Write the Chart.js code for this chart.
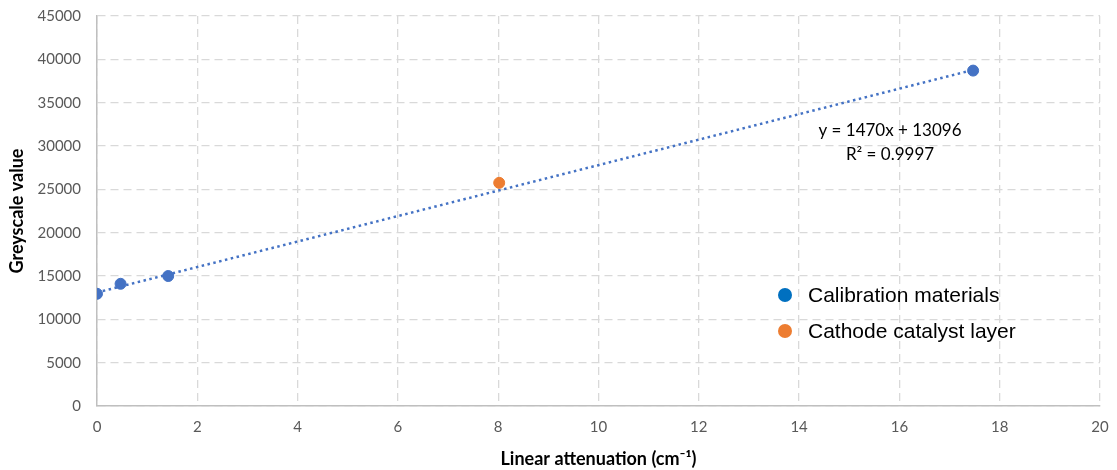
<!DOCTYPE html>
<html>
<head>
<meta charset="utf-8">
<script src="https://cdn.jsdelivr.net/npm/chart.js@4"></script>
<style>
  html, body { margin: 0; padding: 0; background: #fff; }
  #wrap { width: 1117px; height: 470px; }
</style>
</head>
<body>
<div id="wrap"><canvas id="c" width="1117" height="470"></canvas></div>
<script>
// Calibration materials: linear attenuation (cm-1) vs greyscale value
const calibX = [0, 0.47, 1.42, 17.47];
const calibY = [12950, 14100, 15000, 38700];
// Cathode catalyst layer
const cathodeX = [8.02];
const cathodeY = [25750];
// Linear fit of the calibration set
const fitSlope = 1470;
const fitIntercept = 13096;
const fitR2 = 0.9997;
const fitRange = [0, 17.47];

const xTicks = [0, 2, 4, 6, 8, 10, 12, 14, 16, 18, 20];
const yTicks = [0, 5000, 10000, 15000, 20000, 25000, 30000, 35000, 40000, 45000];

const seriesNames = ['Calibration materials', 'Cathode catalyst layer'];

const BLUE = '#4472C4';
const ORANGE = '#ED7D31';
const LEGEND_BLUE = '#0070C0';
const GRID = '#d9d9d9';
const AXIS = '#bfbfbf';
const TICK = '#595959';
const FONT = 'Lato, "Open Sans", sans-serif';

const calibPts = calibX.map((x, i) => ({ x, y: calibY[i] }));
const cathodePts = cathodeX.map((x, i) => ({ x, y: cathodeY[i] }));
const fitPts = fitRange.map(x => ({ x, y: fitSlope * x + fitIntercept }));

// Equation label and legend drawn inside the plot area
const overlay = {
  id: 'overlay',
  afterDraw(chart) {
    const { ctx } = chart;
    ctx.save();
    ctx.fillStyle = '#000';
    ctx.textAlign = 'center';
    ctx.textBaseline = 'middle';
    ctx.font = '17px ' + FONT;
    ctx.fillText('y = ' + fitSlope + 'x + ' + fitIntercept, 890, 131);
    ctx.fillText('R\u00B2 = ' + fitR2, 890, 155);

    const items = [
      { label: seriesNames[0], color: LEGEND_BLUE, y: 295 },
      { label: seriesNames[1], color: ORANGE, y: 331 }
    ];
    ctx.textAlign = 'left';
    ctx.font = '21px "Liberation Sans", Arial, sans-serif';
    items.forEach(it => {
      ctx.beginPath();
      ctx.fillStyle = it.color;
      ctx.arc(785, it.y, 7, 0, Math.PI * 2);
      ctx.fill();
      ctx.fillStyle = '#000';
      ctx.fillText(it.label, 808, it.y + 1);
    });
    ctx.restore();
  }
};

new Chart(document.getElementById('c'), {
  type: 'scatter',
  data: {
    datasets: [
      {
        label: 'Linear fit',
        type: 'line',
        data: fitPts,
        borderColor: BLUE,
        borderWidth: 2.5,
        borderDash: [2.5, 3.5],
        pointRadius: 0,
        fill: false,
        order: 3
      },
      {
        label: seriesNames[0],
        data: calibPts,
        backgroundColor: BLUE,
        borderColor: BLUE,
        pointRadius: 5.5,
        pointHoverRadius: 5.5,
        order: 1
      },
      {
        label: seriesNames[1],
        data: cathodePts,
        backgroundColor: ORANGE,
        borderColor: ORANGE,
        pointRadius: 5.5,
        pointHoverRadius: 5.5,
        order: 2
      }
    ]
  },
  options: {
    responsive: false,
    animation: false,
    events: [],
    layout: { padding: { top: 16, right: 17, left: 0, bottom: 0 } },
    plugins: {
      legend: { display: false },
      tooltip: { enabled: false }
    },
    scales: {
      x: {
        type: 'linear',
        min: 0,
        max: 20,
        afterBuildTicks(scale) { scale.ticks = xTicks.map(v => ({ value: v })); },
        afterFit(scale) {
          scale.height = 64;
          scale.paddingLeft = 0;
          scale.paddingRight = 0;
        },
        ticks: {
          color: TICK,
          font: { family: FONT, size: 15 },
          padding: 12,
          callback: v => String(v)
        },
        grid: {
          color: GRID,
          lineWidth: 1.3,
          drawTicks: false
        },
        border: { color: AXIS, width: 1.5, dash: [8, 5] },
        title: {
          display: true,
          text: 'Linear attenuation (cm\u207B\u00B9)',
          color: '#000',
          font: { family: FONT, size: 18, weight: 'bold' },
          padding: { top: 2, bottom: 0 }
        }
      },
      y: {
        type: 'linear',
        min: 0,
        max: 45000,
        afterBuildTicks(scale) { scale.ticks = yTicks.map(v => ({ value: v })); },
        afterFit(scale) {
          scale.width = 97;
          scale.paddingTop = 0;
          scale.paddingBottom = 0;
        },
        ticks: {
          color: TICK,
          font: { family: FONT, size: 15 },
          padding: 16,
          callback: v => String(v)
        },
        grid: {
          color: GRID,
          lineWidth: 1.3,
          drawTicks: false
        },
        border: { color: AXIS, width: 1.5, dash: [8, 5] },
        title: {
          display: true,
          text: 'Greyscale value',
          color: '#000',
          font: { family: FONT, size: 18, weight: 'bold' },
          padding: { top: 6, bottom: 0 }
        }
      }
    }
  },
  plugins: [overlay]
});
</script>
</body>
</html>
